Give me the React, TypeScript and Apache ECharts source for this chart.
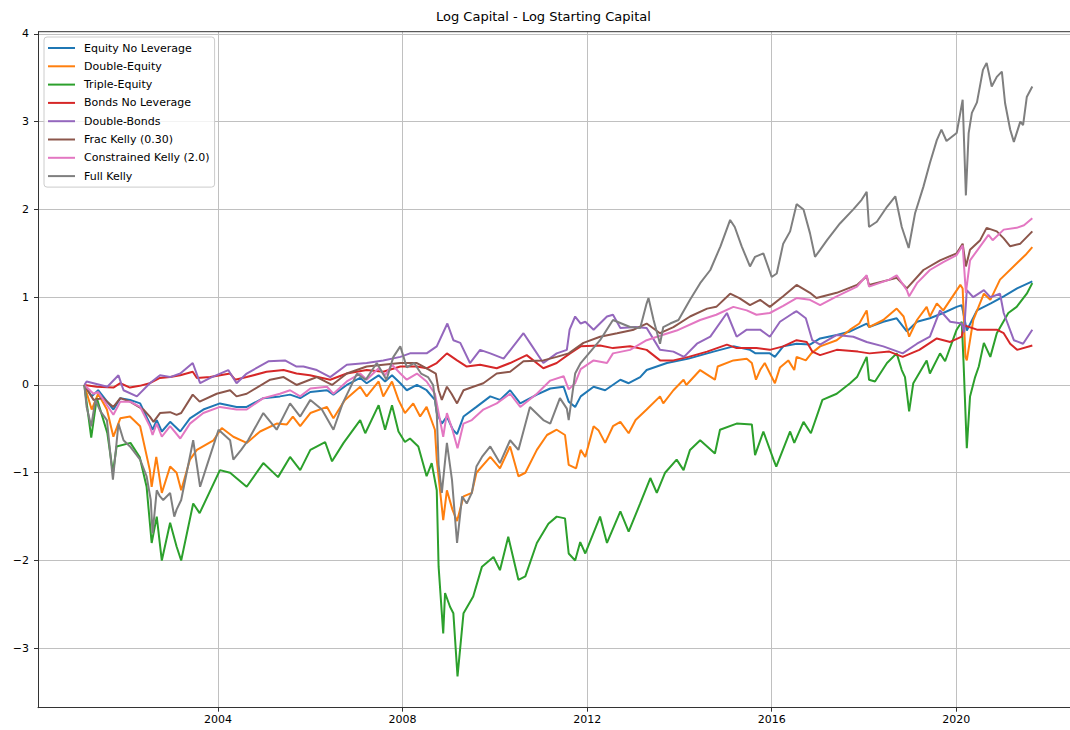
import React, { useEffect, useRef } from "react";
import * as echarts from "echarts";

// [decimal year, log capital - log starting capital]
const equityNoLeverage: [number, number][] = [
  [2001.10, 0], [2001.26, -0.13], [2001.40, -0.06], [2001.73, -0.28], [2001.88, -0.15], [2002.09, -0.17],
  [2002.31, -0.21], [2002.52, -0.44], [2002.58, -0.51], [2002.67, -0.40], [2002.78, -0.53], [2002.96, -0.42],
  [2003.18, -0.53], [2003.39, -0.38], [2003.68, -0.28], [2004.04, -0.21], [2004.40, -0.25], [2004.62, -0.25],
  [2004.98, -0.15], [2005.34, -0.13], [2005.56, -0.11], [2005.78, -0.15], [2006.00, -0.08], [2006.36, -0.06],
  [2006.50, -0.11], [2006.79, 0.00], [2007.08, 0.08], [2007.22, 0.02], [2007.48, 0.11], [2007.62, 0.04],
  [2007.77, 0.11], [2007.95, 0.02], [2008.09, -0.06], [2008.31, 0.00], [2008.52, -0.06], [2008.70, -0.17],
  [2008.74, -0.32], [2008.85, -0.44], [2008.96, -0.36], [2009.09, -0.51], [2009.18, -0.56], [2009.32, -0.36],
  [2009.60, -0.25], [2009.90, -0.13], [2010.11, -0.17], [2010.33, -0.06], [2010.55, -0.21], [2010.91, -0.11],
  [2011.20, -0.04], [2011.49, -0.02], [2011.60, -0.19], [2011.74, -0.25], [2011.86, -0.13], [2012.14, -0.02],
  [2012.39, -0.06], [2012.72, 0.06], [2012.90, 0.02], [2013.15, 0.09], [2013.29, 0.17], [2013.73, 0.25],
  [2014.20, 0.30], [2014.74, 0.38], [2015.17, 0.44], [2015.53, 0.40], [2015.65, 0.36], [2015.96, 0.36],
  [2016.07, 0.32], [2016.25, 0.44], [2016.54, 0.47], [2016.83, 0.46], [2017.05, 0.53], [2017.41, 0.57],
  [2017.70, 0.61], [2018.06, 0.70], [2018.11, 0.66], [2018.42, 0.72], [2018.71, 0.76], [2018.93, 0.61],
  [2019.15, 0.72], [2019.43, 0.76], [2019.72, 0.82], [2020.01, 0.89], [2020.12, 0.91], [2020.23, 0.62],
  [2020.45, 0.85], [2020.75, 0.93], [2021.03, 1.01], [2021.32, 1.10], [2021.65, 1.18],
];

const doubleEquity: [number, number][] = [
  [2001.10, 0], [2001.26, -0.28], [2001.40, -0.10], [2001.59, -0.28], [2001.73, -0.59], [2001.88, -0.38],
  [2002.09, -0.36], [2002.31, -0.47], [2002.52, -0.97], [2002.56, -1.16], [2002.66, -0.82], [2002.78, -1.23],
  [2002.96, -0.93], [2003.10, -1.00], [2003.20, -1.20], [2003.39, -0.85], [2003.54, -0.74], [2003.90, -0.63],
  [2004.08, -0.49], [2004.33, -0.59], [2004.62, -0.66], [2004.91, -0.53], [2005.27, -0.44], [2005.49, -0.45],
  [2005.62, -0.36], [2005.78, -0.47], [2006.00, -0.32], [2006.36, -0.25], [2006.50, -0.38], [2006.75, -0.17],
  [2007.08, -0.02], [2007.22, -0.13], [2007.48, 0.04], [2007.58, -0.13], [2007.77, 0.04], [2007.91, -0.17],
  [2008.05, -0.32], [2008.23, -0.21], [2008.38, -0.36], [2008.52, -0.25], [2008.70, -0.51], [2008.74, -0.85],
  [2008.88, -1.54], [2008.96, -1.20], [2009.08, -1.42], [2009.18, -1.55], [2009.32, -1.27], [2009.50, -1.23],
  [2009.60, -1.00], [2009.90, -0.82], [2010.11, -0.95], [2010.33, -0.70], [2010.51, -1.04], [2010.66, -1.00],
  [2010.91, -0.74], [2011.13, -0.57], [2011.34, -0.51], [2011.52, -0.57], [2011.60, -0.91], [2011.76, -0.95],
  [2011.86, -0.74], [2011.96, -0.82], [2012.14, -0.47], [2012.25, -0.52], [2012.39, -0.66], [2012.56, -0.47],
  [2012.72, -0.42], [2012.90, -0.55], [2013.05, -0.40], [2013.29, -0.28], [2013.58, -0.13], [2013.65, -0.21],
  [2013.87, -0.06], [2014.09, 0.06], [2014.15, 0.00], [2014.45, 0.17], [2014.77, 0.06], [2014.83, 0.21],
  [2015.17, 0.28], [2015.46, 0.30], [2015.57, 0.25], [2015.66, 0.06], [2015.75, 0.17], [2015.85, 0.25],
  [2016.07, 0.02], [2016.18, 0.20], [2016.36, 0.28], [2016.49, 0.17], [2016.54, 0.32], [2016.74, 0.28],
  [2016.86, 0.36], [2017.05, 0.44], [2017.41, 0.51], [2017.70, 0.63], [2017.90, 0.70], [2018.06, 0.85],
  [2018.11, 0.66], [2018.42, 0.74], [2018.71, 0.87], [2018.86, 0.78], [2018.98, 0.55], [2019.15, 0.74],
  [2019.36, 0.89], [2019.43, 0.78], [2019.58, 0.93], [2019.72, 0.85], [2020.09, 1.14], [2020.14, 1.10],
  [2020.20, 0.32], [2020.23, 0.28], [2020.37, 0.74], [2020.60, 1.04], [2020.74, 0.97], [2020.95, 1.20],
  [2021.32, 1.39], [2021.50, 1.48], [2021.65, 1.57],
];

const tripleEquity: [number, number][] = [
  [2001.10, 0], [2001.25, -0.60], [2001.37, -0.15], [2001.60, -0.55], [2001.72, -1.00], [2001.80, -0.70],
  [2002.10, -0.66], [2002.30, -0.82], [2002.45, -1.16], [2002.56, -1.80], [2002.67, -1.50], [2002.78, -2.00],
  [2002.96, -1.57], [2003.10, -1.84], [2003.20, -2.00], [2003.46, -1.35], [2003.60, -1.46], [2004.04, -0.97],
  [2004.26, -1.00], [2004.62, -1.16], [2004.98, -0.89], [2005.30, -1.05], [2005.56, -0.82], [2005.78, -0.97],
  [2006.00, -0.74], [2006.32, -0.65], [2006.47, -0.87], [2006.72, -0.66], [2007.08, -0.40], [2007.19, -0.55],
  [2007.48, -0.23], [2007.62, -0.51], [2007.77, -0.23], [2007.91, -0.53], [2008.05, -0.65], [2008.16, -0.61],
  [2008.34, -0.70], [2008.52, -1.04], [2008.63, -0.89], [2008.74, -1.20], [2008.78, -2.07], [2008.88, -2.83],
  [2008.92, -2.37], [2009.03, -2.53], [2009.10, -2.60], [2009.19, -3.32], [2009.32, -2.60], [2009.53, -2.41],
  [2009.72, -2.07], [2009.97, -1.96], [2010.11, -2.11], [2010.29, -1.73], [2010.51, -2.22], [2010.66, -2.18],
  [2010.91, -1.80], [2011.16, -1.58], [2011.34, -1.50], [2011.52, -1.52], [2011.60, -1.92], [2011.74, -2.00],
  [2011.85, -1.79], [2011.96, -1.92], [2012.28, -1.50], [2012.43, -1.80], [2012.72, -1.44], [2012.90, -1.67],
  [2013.15, -1.35], [2013.37, -1.06], [2013.51, -1.23], [2013.69, -1.00], [2013.94, -0.85], [2014.09, -0.97],
  [2014.23, -0.74], [2014.45, -0.63], [2014.77, -0.78], [2014.88, -0.51], [2015.24, -0.44], [2015.57, -0.45],
  [2015.64, -0.80], [2015.82, -0.53], [2016.04, -0.85], [2016.10, -0.93], [2016.40, -0.53], [2016.49, -0.66],
  [2016.69, -0.42], [2016.85, -0.55], [2017.10, -0.17], [2017.41, -0.10], [2017.70, 0.02], [2017.85, 0.09],
  [2018.06, 0.32], [2018.11, 0.06], [2018.24, 0.04], [2018.50, 0.25], [2018.71, 0.36], [2018.82, 0.17],
  [2018.89, 0.09], [2018.98, -0.30], [2019.07, 0.02], [2019.36, 0.28], [2019.43, 0.13], [2019.65, 0.36],
  [2019.76, 0.27], [2020.01, 0.63], [2020.12, 0.72], [2020.16, 0.25], [2020.23, -0.72], [2020.30, -0.13],
  [2020.41, 0.09], [2020.49, 0.21], [2020.60, 0.48], [2020.74, 0.32], [2020.88, 0.59], [2021.13, 0.82],
  [2021.31, 0.89], [2021.53, 1.04], [2021.65, 1.16],
];

const bondsNoLeverage: [number, number][] = [
  [2001.10, 0], [2001.37, -0.02], [2001.73, -0.03], [2001.88, 0.02], [2002.09, -0.03], [2002.30, -0.01],
  [2002.52, 0.02], [2002.74, 0.08], [2002.96, 0.09], [2003.18, 0.11], [2003.45, 0.15], [2003.54, 0.08],
  [2003.83, 0.09], [2004.26, 0.13], [2004.37, 0.06], [2004.62, 0.09], [2005.05, 0.15], [2005.42, 0.17],
  [2005.70, 0.13], [2005.99, 0.11], [2006.43, 0.06], [2006.79, 0.13], [2007.22, 0.17], [2007.58, 0.15],
  [2007.95, 0.21], [2008.31, 0.21], [2008.52, 0.19], [2008.74, 0.25], [2008.96, 0.36], [2009.18, 0.28],
  [2009.39, 0.21], [2009.68, 0.23], [2010.04, 0.19], [2010.33, 0.25], [2010.69, 0.34], [2011.05, 0.19],
  [2011.34, 0.25], [2011.63, 0.36], [2011.86, 0.44], [2012.28, 0.45], [2012.56, 0.42], [2012.93, 0.44],
  [2013.29, 0.40], [2013.58, 0.28], [2013.87, 0.28], [2014.20, 0.32], [2014.60, 0.38], [2015.03, 0.46],
  [2015.24, 0.42], [2015.67, 0.42], [2015.96, 0.40], [2016.25, 0.44], [2016.54, 0.51], [2016.76, 0.49],
  [2016.88, 0.38], [2017.05, 0.34], [2017.41, 0.40], [2017.87, 0.38], [2018.12, 0.36], [2018.55, 0.38],
  [2018.84, 0.32], [2019.20, 0.40], [2019.58, 0.53], [2019.87, 0.49], [2020.12, 0.55], [2020.17, 0.68],
  [2020.45, 0.63], [2020.88, 0.63], [2021.03, 0.59], [2021.17, 0.47], [2021.32, 0.40], [2021.65, 0.45],
];

const doubleBonds: [number, number][] = [
  [2001.10, 0], [2001.15, 0.04], [2001.60, -0.02], [2001.84, 0.11], [2001.95, -0.06], [2002.24, -0.13],
  [2002.52, 0.02], [2002.74, 0.11], [2002.96, 0.09], [2003.18, 0.13], [2003.45, 0.25], [2003.61, 0.02],
  [2003.83, 0.08], [2004.22, 0.17], [2004.40, 0.02], [2004.62, 0.13], [2005.09, 0.27], [2005.45, 0.28],
  [2005.70, 0.21], [2005.85, 0.21], [2006.14, 0.17], [2006.43, 0.09], [2006.79, 0.23], [2007.22, 0.25],
  [2007.58, 0.28], [2007.95, 0.32], [2008.16, 0.36], [2008.52, 0.36], [2008.74, 0.44], [2008.97, 0.70],
  [2009.10, 0.51], [2009.25, 0.48], [2009.46, 0.25], [2009.68, 0.40], [2009.90, 0.36], [2010.19, 0.30],
  [2010.62, 0.59], [2010.76, 0.48], [2011.05, 0.25], [2011.34, 0.36], [2011.56, 0.40], [2011.62, 0.63],
  [2011.74, 0.78], [2011.86, 0.70], [2011.96, 0.72], [2012.14, 0.63], [2012.43, 0.78], [2012.56, 0.80],
  [2012.72, 0.65], [2013.05, 0.66], [2013.29, 0.65], [2013.58, 0.40], [2013.87, 0.38], [2014.10, 0.32],
  [2014.38, 0.47], [2014.67, 0.55], [2015.03, 0.82], [2015.24, 0.55], [2015.46, 0.63], [2015.75, 0.63],
  [2015.96, 0.55], [2016.18, 0.72], [2016.47, 0.82], [2016.54, 0.84], [2016.74, 0.76], [2016.88, 0.51],
  [2017.05, 0.46], [2017.41, 0.57], [2017.77, 0.55], [2018.06, 0.49], [2018.42, 0.44], [2018.84, 0.36],
  [2019.15, 0.47], [2019.43, 0.55], [2019.65, 0.85], [2019.87, 0.72], [2020.12, 0.70], [2020.17, 0.60],
  [2020.23, 1.08], [2020.37, 1.00], [2020.60, 1.08], [2020.74, 1.00], [2020.95, 1.04], [2021.03, 0.82],
  [2021.25, 0.51], [2021.45, 0.47], [2021.65, 0.63],
];

const fracKelly: [number, number][] = [
  [2001.10, 0], [2001.30, -0.17], [2001.50, -0.15], [2001.73, -0.25], [2001.88, -0.15], [2002.09, -0.19],
  [2002.38, -0.28], [2002.52, -0.36], [2002.60, -0.42], [2002.74, -0.32], [2002.96, -0.31], [2003.10, -0.34],
  [2003.20, -0.32], [2003.45, -0.11], [2003.60, -0.19], [2003.97, -0.10], [2004.26, -0.06], [2004.40, -0.13],
  [2004.62, -0.10], [2005.13, 0.06], [2005.42, 0.09], [2005.70, 0.00], [2005.99, 0.06], [2006.14, 0.09],
  [2006.47, 0.00], [2006.79, 0.13], [2007.22, 0.21], [2007.58, 0.23], [2007.95, 0.25], [2008.31, 0.25],
  [2008.52, 0.19], [2008.72, 0.13], [2008.78, -0.06], [2008.85, -0.17], [2008.96, -0.02], [2009.06, -0.10],
  [2009.18, -0.21], [2009.32, -0.06], [2009.53, -0.02], [2009.75, 0.02], [2010.04, 0.13], [2010.33, 0.15],
  [2010.62, 0.27], [2011.05, 0.28], [2011.34, 0.32], [2011.60, 0.36], [2011.92, 0.48], [2012.28, 0.55],
  [2012.65, 0.59], [2013.01, 0.63], [2013.29, 0.70], [2013.58, 0.59], [2013.87, 0.66], [2014.23, 0.78],
  [2014.60, 0.87], [2014.80, 0.89], [2015.10, 1.04], [2015.30, 0.99], [2015.53, 0.91], [2015.75, 0.97],
  [2015.96, 0.89], [2016.25, 1.01], [2016.54, 1.14], [2016.83, 1.05], [2016.97, 0.99], [2017.41, 1.05],
  [2017.85, 1.14], [2018.06, 1.24], [2018.11, 1.14], [2018.71, 1.22], [2018.93, 1.10], [2019.29, 1.31],
  [2019.65, 1.42], [2020.01, 1.50], [2020.14, 1.61], [2020.21, 1.35], [2020.30, 1.54], [2020.52, 1.65],
  [2020.66, 1.79], [2020.88, 1.75], [2021.03, 1.67], [2021.17, 1.58], [2021.39, 1.61], [2021.65, 1.75],
];

const constrainedKelly: [number, number][] = [
  [2001.10, 0], [2001.30, -0.10], [2001.40, -0.08], [2001.73, -0.34], [2001.88, -0.19], [2002.09, -0.19],
  [2002.31, -0.25], [2002.52, -0.47], [2002.58, -0.57], [2002.67, -0.44], [2002.78, -0.59], [2002.96, -0.47],
  [2003.18, -0.61], [2003.39, -0.44], [2003.68, -0.32], [2004.04, -0.25], [2004.40, -0.28], [2004.62, -0.28],
  [2004.98, -0.15], [2005.34, -0.10], [2005.56, -0.06], [2005.78, -0.13], [2006.00, -0.04], [2006.36, -0.02],
  [2006.50, -0.10], [2006.79, 0.04], [2007.08, 0.13], [2007.22, 0.06], [2007.48, 0.19], [2007.62, 0.11],
  [2007.77, 0.23], [2007.95, 0.13], [2008.09, 0.06], [2008.31, 0.13], [2008.52, 0.04], [2008.70, -0.10],
  [2008.78, -0.32], [2008.88, -0.59], [2008.96, -0.32], [2009.08, -0.51], [2009.19, -0.72], [2009.32, -0.44],
  [2009.50, -0.40], [2009.75, -0.28], [2010.04, -0.21], [2010.33, -0.10], [2010.55, -0.25], [2010.91, -0.10],
  [2011.20, 0.05], [2011.49, 0.10], [2011.60, -0.05], [2011.74, 0.02], [2011.86, 0.18], [2012.14, 0.28],
  [2012.43, 0.25], [2012.56, 0.36], [2012.93, 0.40], [2013.29, 0.51], [2013.58, 0.56], [2013.94, 0.62],
  [2014.45, 0.74], [2014.80, 0.80], [2015.17, 0.89], [2015.46, 0.85], [2015.67, 0.80], [2015.96, 0.82],
  [2016.25, 0.90], [2016.54, 0.99], [2016.83, 0.97], [2017.05, 0.91], [2017.41, 1.01], [2017.85, 1.12],
  [2018.06, 1.25], [2018.11, 1.12], [2018.55, 1.20], [2018.71, 1.25], [2018.93, 1.08], [2018.98, 1.01],
  [2019.15, 1.16], [2019.43, 1.31], [2019.72, 1.40], [2020.01, 1.48], [2020.14, 1.59], [2020.21, 1.05],
  [2020.30, 1.42], [2020.52, 1.58], [2020.70, 1.71], [2020.79, 1.65], [2021.03, 1.77], [2021.31, 1.79],
  [2021.47, 1.82], [2021.65, 1.90],
];

const fullKelly: [number, number][] = [
  [2001.10, 0], [2001.15, -0.25], [2001.25, -0.47], [2001.34, -0.17], [2001.45, -0.30], [2001.59, -0.40],
  [2001.72, -1.08], [2001.84, -0.44], [2001.95, -0.63], [2002.09, -0.70], [2002.31, -0.85], [2002.45, -1.04],
  [2002.54, -1.31], [2002.58, -1.69], [2002.67, -1.20], [2002.74, -1.27], [2002.81, -1.31], [2002.96, -1.23],
  [2003.05, -1.50], [2003.10, -1.42], [2003.20, -1.31], [2003.46, -0.63], [2003.61, -1.16], [2003.75, -0.93],
  [2004.01, -0.51], [2004.26, -0.63], [2004.33, -0.85], [2004.50, -0.74], [2004.65, -0.63], [2004.98, -0.32],
  [2005.27, -0.51], [2005.56, -0.21], [2005.78, -0.36], [2006.00, -0.17], [2006.25, -0.28], [2006.50, -0.51],
  [2006.70, -0.21], [2007.01, 0.13], [2007.20, 0.06], [2007.44, 0.25], [2007.65, 0.06], [2007.80, 0.32],
  [2007.95, 0.44], [2008.09, 0.20], [2008.25, 0.25], [2008.40, 0.13], [2008.55, 0.09], [2008.66, 0.00],
  [2008.74, -0.32], [2008.78, -0.91], [2008.85, -1.23], [2008.96, -0.66], [2009.07, -1.08], [2009.18, -1.80],
  [2009.29, -1.27], [2009.39, -1.35], [2009.50, -1.23], [2009.60, -0.93], [2009.72, -0.82], [2009.90, -0.70],
  [2010.11, -0.89], [2010.33, -0.63], [2010.51, -0.74], [2010.76, -0.25], [2011.05, -0.40], [2011.20, -0.44],
  [2011.41, -0.15], [2011.56, -0.27], [2011.60, -0.40], [2011.74, 0.13], [2011.86, 0.25], [2012.28, 0.51],
  [2012.56, 0.74], [2012.93, 0.66], [2013.15, 0.65], [2013.29, 0.93], [2013.33, 0.99], [2013.44, 0.74],
  [2013.58, 0.47], [2013.65, 0.66], [2013.80, 0.70], [2013.98, 0.74], [2014.23, 0.97], [2014.45, 1.16],
  [2014.67, 1.31], [2014.89, 1.58], [2015.10, 1.88], [2015.20, 1.80], [2015.35, 1.58], [2015.53, 1.35],
  [2015.64, 1.46], [2015.82, 1.50], [2016.00, 1.23], [2016.11, 1.27], [2016.25, 1.61], [2016.40, 1.75],
  [2016.54, 2.06], [2016.69, 2.00], [2016.83, 1.73], [2016.94, 1.46], [2017.05, 1.54], [2017.20, 1.65],
  [2017.48, 1.84], [2017.77, 2.00], [2017.95, 2.11], [2018.06, 2.20], [2018.11, 1.80], [2018.28, 1.86],
  [2018.50, 2.03], [2018.68, 2.15], [2018.82, 1.80], [2018.97, 1.56], [2019.11, 1.96], [2019.29, 2.26],
  [2019.43, 2.53], [2019.58, 2.79], [2019.68, 2.91], [2019.79, 2.78], [2020.01, 2.87], [2020.14, 3.25],
  [2020.21, 2.16], [2020.27, 2.87], [2020.34, 3.10], [2020.45, 3.22], [2020.58, 3.59], [2020.66, 3.67],
  [2020.77, 3.40], [2020.88, 3.51], [2020.99, 3.57], [2021.06, 3.21], [2021.17, 2.91], [2021.25, 2.77],
  [2021.39, 3.00], [2021.45, 2.96], [2021.53, 3.28], [2021.65, 3.40],
];

const seriesNames = [
  "Equity No Leverage",
  "Double-Equity",
  "Triple-Equity",
  "Bonds No Leverage",
  "Double-Bonds",
  "Frac Kelly (0.30)",
  "Constrained Kelly (2.0)",
  "Full Kelly",
];
const seriesData = [
  equityNoLeverage,
  doubleEquity,
  tripleEquity,
  bondsNoLeverage,
  doubleBonds,
  fracKelly,
  constrainedKelly,
  fullKelly,
];
const colors = ["#1f77b4", "#ff7f0e", "#2ca02c", "#d62728", "#9467bd", "#8c564b", "#e377c2", "#7f7f7f"];

const yTicks = [-3, -2, -1, 0, 1, 2, 3, 4];
const xTicks = [2004, 2008, 2012, 2016, 2020];
const xRange: [number, number] = [2000.096, 2022.467];
const yRange: [number, number] = [-3.677, 4.025];

const FONT = "DejaVu Sans";

export default function App() {
  const ref = useRef<HTMLDivElement>(null);
  useEffect(() => {
    if (!ref.current) return;
    const chart = echarts.init(ref.current, undefined, { renderer: "svg" });
    chart.setOption({
      animation: false,
      backgroundColor: "#ffffff",
      title: {
        text: "Log Capital - Log Starting Capital",
        left: 436,
        top: 10,
        padding: 0,
        textStyle: { fontFamily: FONT, fontSize: 13, fontWeight: "normal", color: "#000" },
      },
      grid: { left: 38, right: 0, top: 31.7, bottom: 22.3, containLabel: false },
      legend: {
        orient: "vertical",
        left: 44,
        top: 37,
        data: seriesNames,
        icon: "rect",
        itemWidth: 27,
        itemHeight: 2,
        itemGap: 4.3,
        padding: [4, 5, 4, 4],
        backgroundColor: "rgba(255,255,255,0.8)",
        borderColor: "#cccccc",
        borderWidth: 1,
        borderRadius: 3,
        textStyle: { fontFamily: FONT, fontSize: 11, color: "#000", lineHeight: 14, padding: [0, 0, 0, 4] },
      },
      graphic: [
        {
          type: "line",
          shape: { x1: 38, y1: 31.7, x2: 1070, y2: 31.7 },
          style: { stroke: "#333", lineWidth: 1 },
          z: 10,
        },
      ],
      xAxis: {
        type: "value",
        min: xRange[0],
        max: xRange[1],
        axisLine: { show: true, onZero: false, lineStyle: { color: "#333", width: 1 } },
        axisTick: { show: true, length: 4, customValues: xTicks, lineStyle: { color: "#333" } },
        axisLabel: {
          customValues: xTicks,
          formatter: (v: number) => String(Math.round(v)),
          fontFamily: FONT,
          fontSize: 11,
          color: "#000",
          margin: 6,
          showMinLabel: true,
          showMaxLabel: true,
          hideOverlap: false,
        },
        splitLine: { show: true, lineStyle: { color: "#c0c0c0", width: 1 } },
      },
      yAxis: {
        type: "value",
        min: yRange[0],
        max: yRange[1],
        axisLine: { show: true, onZero: false, lineStyle: { color: "#333", width: 1 } },
        axisTick: { show: true, length: 4, customValues: yTicks, lineStyle: { color: "#333" } },
        axisLabel: {
          customValues: yTicks,
          formatter: (v: number) => (v < 0 ? "\u2212" + Math.abs(v) : String(v)),
          fontFamily: FONT,
          fontSize: 11,
          color: "#000",
          margin: 9,
          showMinLabel: true,
          showMaxLabel: true,
        },
        splitLine: { show: true, lineStyle: { color: "#c0c0c0", width: 1 } },
      },
      series: seriesNames.map((name, i) => ({
        name,
        type: "line",
        showSymbol: false,
        symbol: "none",
        color: colors[i],
        lineStyle: { width: 2, color: colors[i] },
        data: seriesData[i],
        z: 2 + i,
      })),
    });
    return () => chart.dispose();
  }, []);
  return (
    <div
      ref={ref}
      style={{ position: "absolute", left: 0, top: 0, width: 1070, height: 730 }}
    />
  );
}
